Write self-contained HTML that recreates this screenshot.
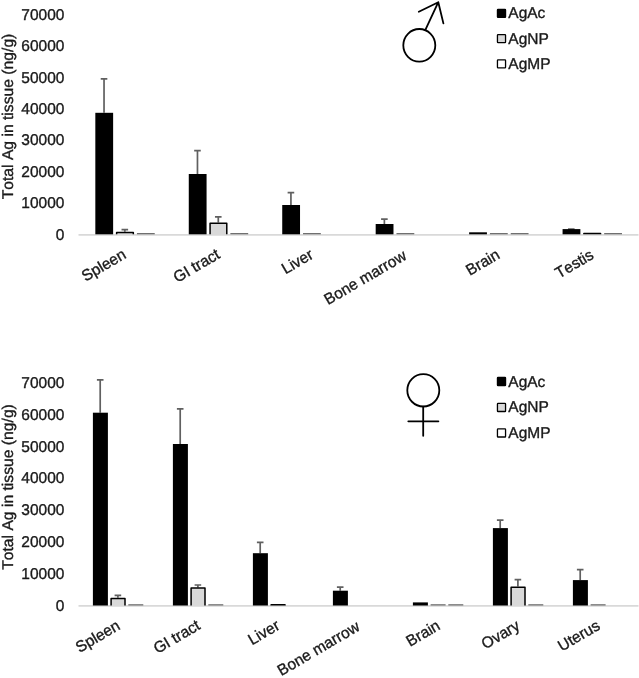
<!DOCTYPE html>
<html lang="en"><head><meta charset="utf-8"><title>Total Ag in tissue</title>
<style>html,body{margin:0;padding:0;background:#fff;}body{width:639px;height:678px;overflow:hidden;}svg{display:block;}text{stroke:#1a1a1a;stroke-width:0.35px;font-kerning:none;}</style>
</head><body>
<svg width="639" height="678" viewBox="0 0 639 678" font-family="'Liberation Sans', sans-serif" font-size="15.5" fill="#1a1a1a" text-rendering="geometricPrecision">
<rect width="639" height="678" fill="#fff"/>
<!-- top chart -->
<line x1="78.5" y1="234.85000000000002" x2="638.5" y2="234.85000000000002" stroke="#d9d9d9" stroke-width="1.8"/>
<path d="M104.03 112.80V78.90M100.73 78.90H107.33" stroke="#606060" stroke-width="1.7" fill="none"/>
<rect x="95.33" y="112.80" width="17.80" height="121.50" fill="#000"/>
<path d="M124.83 231.70V229.70M121.53 229.70H128.12" stroke="#606060" stroke-width="1.7" fill="none"/>
<path d="M116.62 234.30V232.40H133.33V234.30" fill="#d9d9d9" stroke="#000" stroke-width="1.5" stroke-linejoin="round"/>
<rect x="136.93" y="233.00" width="17.80" height="1.3" fill="#707070"/>
<path d="M197.47 174.00V150.70M194.17 150.70H200.77" stroke="#606060" stroke-width="1.7" fill="none"/>
<rect x="188.77" y="174.00" width="17.80" height="60.30" fill="#000"/>
<path d="M218.28 222.50V216.80M214.97 216.80H221.57" stroke="#606060" stroke-width="1.7" fill="none"/>
<path d="M210.07 234.30V223.20H226.78V234.30" fill="#d9d9d9" stroke="#000" stroke-width="1.5" stroke-linejoin="round"/>
<rect x="230.37" y="233.00" width="17.80" height="1.3" fill="#707070"/>
<path d="M290.93 205.00V192.60M287.62 192.60H294.23" stroke="#606060" stroke-width="1.7" fill="none"/>
<rect x="282.23" y="205.00" width="17.80" height="29.30" fill="#000"/>
<rect x="303.03" y="233.00" width="17.80" height="1.3" fill="#707070"/>
<path d="M384.38 224.00V219.10M381.08 219.10H387.68" stroke="#606060" stroke-width="1.7" fill="none"/>
<rect x="375.68" y="224.00" width="17.80" height="10.30" fill="#000"/>
<rect x="396.48" y="233.00" width="17.80" height="1.3" fill="#707070"/>
<rect x="469.13" y="232.30" width="17.80" height="2.00" fill="#000"/>
<rect x="489.93" y="233.00" width="17.80" height="1.3" fill="#707070"/>
<rect x="510.73" y="233.00" width="17.80" height="1.3" fill="#707070"/>
<path d="M571.27 229.10V229.10M567.97 229.10H574.57" stroke="#606060" stroke-width="1.7" fill="none"/>
<rect x="562.57" y="229.10" width="17.80" height="5.20" fill="#000"/>
<path d="M583.87 234.30V233.50H600.57V234.30" fill="#d9d9d9" stroke="#000" stroke-width="1.5" stroke-linejoin="round"/>
<rect x="604.17" y="233.00" width="17.80" height="1.3" fill="#707070"/>
<text transform="translate(64.4 239.50) scale(1 1.01)" text-anchor="end">0</text>
<text transform="translate(64.4 208.11) scale(1 1.01)" text-anchor="end">10000</text>
<text transform="translate(64.4 176.72) scale(1 1.01)" text-anchor="end">20000</text>
<text transform="translate(64.4 145.33) scale(1 1.01)" text-anchor="end">30000</text>
<text transform="translate(64.4 113.94) scale(1 1.01)" text-anchor="end">40000</text>
<text transform="translate(64.4 82.55) scale(1 1.01)" text-anchor="end">50000</text>
<text transform="translate(64.4 51.16) scale(1 1.01)" text-anchor="end">60000</text>
<text transform="translate(64.4 19.77) scale(1 1.01)" text-anchor="end">70000</text>
<text transform="translate(13.2 116.5) scale(1 1.012) rotate(-90)" text-anchor="middle">Total Ag in tissue (ng/g)</text>
<text transform="translate(127.22 257.40) rotate(-30.4) scale(1 1.01)" text-anchor="end">Spleen</text>
<text transform="translate(221.07 257.30) rotate(-30.4) scale(1 1.01)" text-anchor="end">GI tract</text>
<text transform="translate(314.43 257.60) rotate(-30.4) scale(1 1.01)" text-anchor="end">Liver</text>
<text transform="translate(407.58 258.60) rotate(-30.4) scale(1 1.01)" text-anchor="end">Bone marrow</text>
<text transform="translate(501.03 257.60) rotate(-30.4) scale(1 1.01)" text-anchor="end">Brain</text>
<text transform="translate(594.77 257.80) rotate(-30.4) scale(1 1.01)" text-anchor="end">Testis</text>
<rect x="497.45" y="9.30" width="8.1" height="8.1" rx="0.6" fill="#000" stroke="#000" stroke-width="1.3"/>
<text transform="translate(508.3 18.30) scale(1 1.01)">AgAc</text>
<rect x="497.45" y="34.60" width="8.1" height="8.1" rx="0.6" fill="#d9d9d9" stroke="#000" stroke-width="1.3"/>
<text transform="translate(508.3 43.60) scale(1 1.01)">AgNP</text>
<rect x="497.45" y="59.80" width="8.1" height="8.1" rx="0.6" fill="#fff" stroke="#000" stroke-width="1.3"/>
<text transform="translate(508.3 68.80) scale(1 1.01)">AgMP</text>
<g fill="none" stroke="#000" stroke-width="1.8" stroke-linecap="round" stroke-linejoin="round">
<ellipse cx="419.3" cy="45.3" rx="16" ry="16.3"/>
<path d="M425.5 29.6L438.3 2.2M418.8 11.7L438.3 2.2L443.4 23.4"/>
</g>
<!-- bottom chart -->
<line x1="78.5" y1="605.95" x2="638.5" y2="605.95" stroke="#d9d9d9" stroke-width="1.8"/>
<path d="M100.20 412.70V379.80M96.90 379.80H103.50" stroke="#606060" stroke-width="1.7" fill="none"/>
<rect x="92.90" y="412.70" width="15.00" height="192.80" fill="#000"/>
<path d="M117.90 597.70V595.40M114.60 595.40H121.20" stroke="#606060" stroke-width="1.7" fill="none"/>
<path d="M111.10 605.50V598.40H125.00V605.50" fill="#d9d9d9" stroke="#000" stroke-width="1.5" stroke-linejoin="round"/>
<rect x="128.30" y="604.20" width="15.00" height="1.3" fill="#707070"/>
<path d="M180.20 444.00V408.90M176.90 408.90H183.50" stroke="#606060" stroke-width="1.7" fill="none"/>
<rect x="172.90" y="444.00" width="15.00" height="161.50" fill="#000"/>
<path d="M197.90 587.40V585.00M194.60 585.00H201.20" stroke="#606060" stroke-width="1.7" fill="none"/>
<path d="M191.10 605.50V588.10H205.00V605.50" fill="#d9d9d9" stroke="#000" stroke-width="1.5" stroke-linejoin="round"/>
<rect x="208.30" y="604.20" width="15.00" height="1.3" fill="#707070"/>
<path d="M260.20 553.20V542.30M256.90 542.30H263.50" stroke="#606060" stroke-width="1.7" fill="none"/>
<rect x="252.90" y="553.20" width="15.00" height="52.30" fill="#000"/>
<path d="M271.10 605.50V604.70H285.00V605.50" fill="#d9d9d9" stroke="#000" stroke-width="1.5" stroke-linejoin="round"/>
<path d="M340.20 590.70V587.10M336.90 587.10H343.50" stroke="#606060" stroke-width="1.7" fill="none"/>
<rect x="332.90" y="590.70" width="15.00" height="14.80" fill="#000"/>
<rect x="412.90" y="602.40" width="15.00" height="3.10" fill="#000"/>
<rect x="430.60" y="604.20" width="15.00" height="1.3" fill="#707070"/>
<rect x="448.30" y="604.20" width="15.00" height="1.3" fill="#707070"/>
<path d="M500.20 528.10V520.20M496.90 520.20H503.50" stroke="#606060" stroke-width="1.7" fill="none"/>
<rect x="492.90" y="528.10" width="15.00" height="77.40" fill="#000"/>
<path d="M517.90 586.50V579.60M514.60 579.60H521.20" stroke="#606060" stroke-width="1.7" fill="none"/>
<path d="M511.10 605.50V587.20H525.00V605.50" fill="#d9d9d9" stroke="#000" stroke-width="1.5" stroke-linejoin="round"/>
<rect x="528.30" y="604.20" width="15.00" height="1.3" fill="#707070"/>
<path d="M580.20 580.10V569.60M576.90 569.60H583.50" stroke="#606060" stroke-width="1.7" fill="none"/>
<rect x="572.90" y="580.10" width="15.00" height="25.40" fill="#000"/>
<rect x="590.60" y="604.20" width="15.00" height="1.3" fill="#707070"/>
<text transform="translate(64.4 610.50) scale(1 1.01)" text-anchor="end">0</text>
<text transform="translate(64.4 578.70) scale(1 1.01)" text-anchor="end">10000</text>
<text transform="translate(64.4 546.90) scale(1 1.01)" text-anchor="end">20000</text>
<text transform="translate(64.4 515.10) scale(1 1.01)" text-anchor="end">30000</text>
<text transform="translate(64.4 483.30) scale(1 1.01)" text-anchor="end">40000</text>
<text transform="translate(64.4 451.50) scale(1 1.01)" text-anchor="end">50000</text>
<text transform="translate(64.4 419.70) scale(1 1.01)" text-anchor="end">60000</text>
<text transform="translate(64.4 387.90) scale(1 1.01)" text-anchor="end">70000</text>
<text transform="translate(13.2 487) scale(1 1.012) rotate(-90)" text-anchor="middle">Total Ag in tissue (ng/g)</text>
<text transform="translate(121.20 628.60) rotate(-30.4) scale(1 1.01)" text-anchor="end">Spleen</text>
<text transform="translate(201.30 628.40) rotate(-30.4) scale(1 1.01)" text-anchor="end">GI tract</text>
<text transform="translate(280.90 628.40) rotate(-30.4) scale(1 1.01)" text-anchor="end">Liver</text>
<text transform="translate(360.80 629.60) rotate(-30.4) scale(1 1.01)" text-anchor="end">Bone marrow</text>
<text transform="translate(441.30 628.60) rotate(-30.4) scale(1 1.01)" text-anchor="end">Brain</text>
<text transform="translate(521.00 628.60) rotate(-30.4) scale(1 1.01)" text-anchor="end">Ovary</text>
<text transform="translate(601.10 628.60) rotate(-30.4) scale(1 1.01)" text-anchor="end">Uterus</text>
<rect x="497.45" y="377.50" width="8.1" height="8.1" rx="0.6" fill="#000" stroke="#000" stroke-width="1.3"/>
<text transform="translate(508.3 386.50) scale(1 1.01)">AgAc</text>
<rect x="497.45" y="403.40" width="8.1" height="8.1" rx="0.6" fill="#d9d9d9" stroke="#000" stroke-width="1.3"/>
<text transform="translate(508.3 412.40) scale(1 1.01)">AgNP</text>
<rect x="497.45" y="428.90" width="8.1" height="8.1" rx="0.6" fill="#fff" stroke="#000" stroke-width="1.3"/>
<text transform="translate(508.3 437.90) scale(1 1.01)">AgMP</text>
<g fill="none" stroke="#000" stroke-width="1.8" stroke-linecap="round">
<ellipse cx="423.3" cy="390.3" rx="16" ry="16.2"/>
<path d="M423.2 406.6V435.8M408.3 421.3H438.4"/>
</g>
</svg>
</body></html>
